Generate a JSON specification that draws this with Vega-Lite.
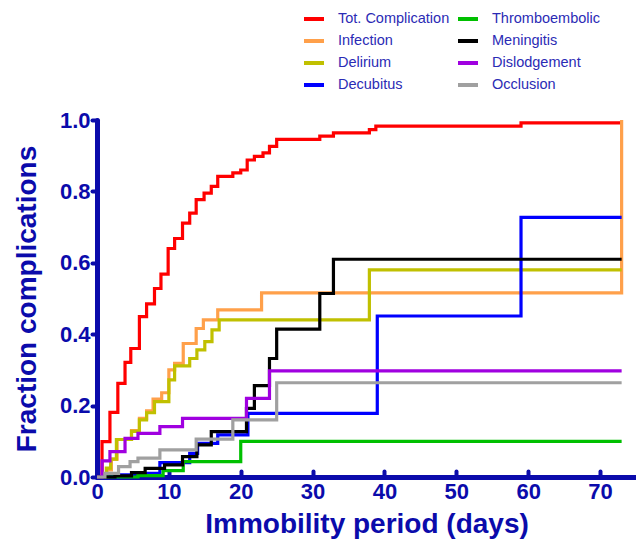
{
  "$schema": "https://vega.github.io/schema/vega-lite/v6.json",
  "autosize": {"type": "none"},
  "padding": {"left": 97, "top": 120, "right": 0, "bottom": 72},
  "width": 539,
  "height": 357,
  "background": "white",
  "config": {
    "view": {"stroke": null},
    "font": "Liberation Sans"
  },
  "data": {
    "values": [
      {"s": "Tot. Complication", "t": 0, "f": 0},
      {"s": "Tot. Complication", "t": 0.7, "f": 0.099},
      {"s": "Tot. Complication", "t": 1.8, "f": 0.181},
      {"s": "Tot. Complication", "t": 2.9, "f": 0.262},
      {"s": "Tot. Complication", "t": 3.9, "f": 0.321},
      {"s": "Tot. Complication", "t": 4.7, "f": 0.36},
      {"s": "Tot. Complication", "t": 5.9, "f": 0.449},
      {"s": "Tot. Complication", "t": 6.9, "f": 0.485},
      {"s": "Tot. Complication", "t": 8, "f": 0.528},
      {"s": "Tot. Complication", "t": 8.9, "f": 0.568},
      {"s": "Tot. Complication", "t": 9.9, "f": 0.64},
      {"s": "Tot. Complication", "t": 10.8, "f": 0.668},
      {"s": "Tot. Complication", "t": 11.9, "f": 0.711},
      {"s": "Tot. Complication", "t": 12.9, "f": 0.739},
      {"s": "Tot. Complication", "t": 13.8, "f": 0.777},
      {"s": "Tot. Complication", "t": 14.9, "f": 0.795},
      {"s": "Tot. Complication", "t": 15.9, "f": 0.814},
      {"s": "Tot. Complication", "t": 16.8, "f": 0.842},
      {"s": "Tot. Complication", "t": 18.9, "f": 0.852},
      {"s": "Tot. Complication", "t": 20, "f": 0.86},
      {"s": "Tot. Complication", "t": 20.9, "f": 0.888},
      {"s": "Tot. Complication", "t": 21.9, "f": 0.898},
      {"s": "Tot. Complication", "t": 23.1, "f": 0.908},
      {"s": "Tot. Complication", "t": 24, "f": 0.926},
      {"s": "Tot. Complication", "t": 25, "f": 0.946},
      {"s": "Tot. Complication", "t": 31, "f": 0.955},
      {"s": "Tot. Complication", "t": 32.9, "f": 0.964},
      {"s": "Tot. Complication", "t": 37.9, "f": 0.973},
      {"s": "Tot. Complication", "t": 38.8, "f": 0.983},
      {"s": "Tot. Complication", "t": 59, "f": 0.992},
      {"s": "Tot. Complication", "t": 73, "f": 0.992},

      {"s": "Infection", "t": 0, "f": 0},
      {"s": "Infection", "t": 1.4, "f": 0.02},
      {"s": "Infection", "t": 2, "f": 0.05},
      {"s": "Infection", "t": 2.8, "f": 0.105},
      {"s": "Infection", "t": 4.8, "f": 0.13},
      {"s": "Infection", "t": 5.9, "f": 0.164},
      {"s": "Infection", "t": 6.9, "f": 0.185},
      {"s": "Infection", "t": 7.8, "f": 0.218},
      {"s": "Infection", "t": 9, "f": 0.236},
      {"s": "Infection", "t": 10, "f": 0.3},
      {"s": "Infection", "t": 10.8, "f": 0.318},
      {"s": "Infection", "t": 12, "f": 0.374},
      {"s": "Infection", "t": 13.8, "f": 0.416},
      {"s": "Infection", "t": 14.8, "f": 0.44},
      {"s": "Infection", "t": 16.8, "f": 0.468},
      {"s": "Infection", "t": 22.9, "f": 0.516},
      {"s": "Infection", "t": 73, "f": 1.0},

      {"s": "Delirium", "t": 0, "f": 0},
      {"s": "Delirium", "t": 1.3, "f": 0.025},
      {"s": "Delirium", "t": 1.9, "f": 0.05},
      {"s": "Delirium", "t": 2.7, "f": 0.105},
      {"s": "Delirium", "t": 4.8, "f": 0.128},
      {"s": "Delirium", "t": 5.9, "f": 0.16},
      {"s": "Delirium", "t": 6.9, "f": 0.18},
      {"s": "Delirium", "t": 8, "f": 0.211},
      {"s": "Delirium", "t": 10, "f": 0.272},
      {"s": "Delirium", "t": 10.8, "f": 0.311},
      {"s": "Delirium", "t": 12.9, "f": 0.332},
      {"s": "Delirium", "t": 13.9, "f": 0.356},
      {"s": "Delirium", "t": 15, "f": 0.379},
      {"s": "Delirium", "t": 16, "f": 0.412},
      {"s": "Delirium", "t": 17, "f": 0.44},
      {"s": "Delirium", "t": 37.9, "f": 0.58},
      {"s": "Delirium", "t": 73, "f": 0.58},

      {"s": "Decubitus", "t": 0, "f": 0},
      {"s": "Decubitus", "t": 3.2, "f": 0.006},
      {"s": "Decubitus", "t": 5, "f": 0.01},
      {"s": "Decubitus", "t": 8.75, "f": 0.04},
      {"s": "Decubitus", "t": 12.9, "f": 0.066},
      {"s": "Decubitus", "t": 14, "f": 0.094},
      {"s": "Decubitus", "t": 16.8, "f": 0.118},
      {"s": "Decubitus", "t": 21, "f": 0.178},
      {"s": "Decubitus", "t": 39, "f": 0.451},
      {"s": "Decubitus", "t": 59, "f": 0.727},
      {"s": "Decubitus", "t": 73, "f": 0.727},

      {"s": "Thromboembolic", "t": 0, "f": 0},
      {"s": "Thromboembolic", "t": 5.7, "f": 0.004},
      {"s": "Thromboembolic", "t": 9.2, "f": 0.018},
      {"s": "Thromboembolic", "t": 12, "f": 0.043},
      {"s": "Thromboembolic", "t": 20, "f": 0.1},
      {"s": "Thromboembolic", "t": 73, "f": 0.1},

      {"s": "Meningitis", "t": 0, "f": 0},
      {"s": "Meningitis", "t": 2.5, "f": 0.003},
      {"s": "Meningitis", "t": 4.8, "f": 0.012},
      {"s": "Meningitis", "t": 6.7, "f": 0.024},
      {"s": "Meningitis", "t": 9.4, "f": 0.034},
      {"s": "Meningitis", "t": 11.9, "f": 0.057},
      {"s": "Meningitis", "t": 13.9, "f": 0.09},
      {"s": "Meningitis", "t": 15.9, "f": 0.127},
      {"s": "Meningitis", "t": 20.8, "f": 0.192},
      {"s": "Meningitis", "t": 21.9, "f": 0.256},
      {"s": "Meningitis", "t": 24, "f": 0.332},
      {"s": "Meningitis", "t": 25, "f": 0.414},
      {"s": "Meningitis", "t": 31, "f": 0.514},
      {"s": "Meningitis", "t": 32.9, "f": 0.61},
      {"s": "Meningitis", "t": 73, "f": 0.61},

      {"s": "Dislodgement", "t": 0, "f": 0},
      {"s": "Dislodgement", "t": 0.7, "f": 0.045},
      {"s": "Dislodgement", "t": 1.8, "f": 0.071},
      {"s": "Dislodgement", "t": 3.9, "f": 0.108},
      {"s": "Dislodgement", "t": 5.7, "f": 0.122},
      {"s": "Dislodgement", "t": 8.75, "f": 0.141},
      {"s": "Dislodgement", "t": 11.9, "f": 0.164},
      {"s": "Dislodgement", "t": 20.8, "f": 0.22},
      {"s": "Dislodgement", "t": 24, "f": 0.297},
      {"s": "Dislodgement", "t": 73, "f": 0.297},

      {"s": "Occlusion", "t": 0, "f": 0},
      {"s": "Occlusion", "t": 1.1, "f": 0.01},
      {"s": "Occlusion", "t": 3, "f": 0.029},
      {"s": "Occlusion", "t": 4.6, "f": 0.043},
      {"s": "Occlusion", "t": 5.7, "f": 0.053},
      {"s": "Occlusion", "t": 8.75, "f": 0.076},
      {"s": "Occlusion", "t": 13.8, "f": 0.106},
      {"s": "Occlusion", "t": 18.9, "f": 0.16},
      {"s": "Occlusion", "t": 25, "f": 0.264},
      {"s": "Occlusion", "t": 73, "f": 0.264}
    ]
  },
  "mark": {"type": "line", "interpolate": "step-after", "strokeWidth": 3.2},
  "encoding": {
    "x": {
      "field": "t",
      "type": "quantitative",
      "scale": {"domain": [0, 75], "nice": false, "zero": true},
      "axis": {
        "title": "Immobility period (days)",
        "values": [0, 10, 20, 30, 40, 50, 60, 70],
        "grid": false,
        "domainColor": "#0b0bab",
        "domainWidth": 5,
        "domainCap": "round",
        "tickColor": "#0b0bab",
        "tickWidth": 4,
        "tickCap": "round",
        "tickSize": -6,
        "labelPadding": 10,
        "labelColor": "#0b0bab",
        "labelFontSize": 22,
        "labelFontWeight": "bold",
        "labelFont": "Liberation Sans",
        "labelFlush": false,
        "titleColor": "#0b0bab",
        "titleFontSize": 28,
        "titleFontWeight": "bold",
        "titleFont": "Liberation Sans",
        "titlePadding": 8
      }
    },
    "y": {
      "field": "f",
      "type": "quantitative",
      "scale": {"domain": [0, 1], "nice": false},
      "axis": {
        "title": "Fraction complications",
        "values": [0, 0.2, 0.4, 0.6, 0.8, 1.0],
        "format": ".1f",
        "grid": false,
        "domainColor": "#0b0bab",
        "domainWidth": 5,
        "domainCap": "round",
        "tickColor": "#0b0bab",
        "tickWidth": 4,
        "tickCap": "round",
        "tickSize": 5,
        "labelPadding": 2,
        "labelColor": "#0b0bab",
        "labelFontSize": 22,
        "labelFontWeight": "bold",
        "labelFont": "Liberation Sans",
        "labelFlush": false,
        "titleColor": "#0b0bab",
        "titleFontSize": 28,
        "titleFontWeight": "bold",
        "titleFont": "Liberation Sans",
        "titlePadding": 18
      }
    },
    "color": {
      "field": "s",
      "type": "nominal",
      "scale": {
        "domain": ["Tot. Complication", "Infection", "Delirium", "Decubitus", "Thromboembolic", "Meningitis", "Dislodgement", "Occlusion"],
        "range": ["#ff0000", "#ffa04a", "#c0c000", "#0000ff", "#00c000", "#000000", "#a000e0", "#a0a0a0"]
      },
      "legend": {
        "title": null,
        "orient": "none",
        "legendX": 205,
        "legendY": -113,
        "columns": 2,
        "padding": 0,
        "symbolType": "stroke",
        "symbolSize": 400,
        "symbolStrokeWidth": 4,
        "labelFontSize": 14.5,
        "labelFont": "Liberation Sans",
        "labelColor": "#2b2bb5",
        "labelOffset": 12,
        "rowPadding": 2,
        "columnPadding": 0
      }
    }
  }
}
